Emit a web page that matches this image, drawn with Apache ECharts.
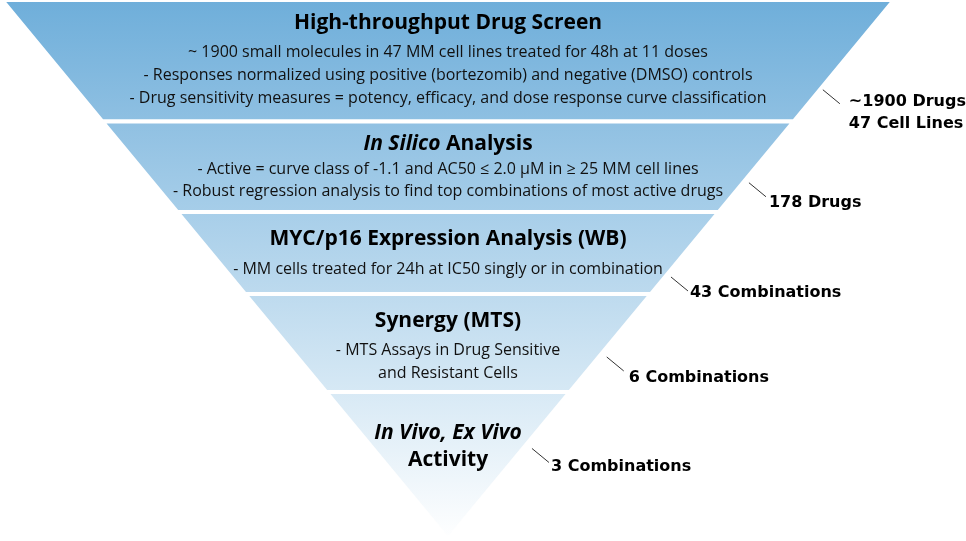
<!DOCTYPE html>
<html><head><meta charset="utf-8">
<script src="https://cdn.jsdelivr.net/npm/echarts@6/dist/echarts.min.js"></script>
<style>html,body{margin:0;padding:0;background:#fff}#chart{width:966px;height:541px}</style>
</head><body><div id="chart"></div>
<script>
// ---- data ----
const stageNames = ['High-throughput Drug Screen', 'In Silico Analysis', 'MYC/p16 Expression Analysis (WB)', 'Synergy (MTS)', 'In Vivo, Ex Vivo Activity'];
// title segments: [text, italic]
const stageTitles = [
  [['High-throughput Drug Screen', 0]],
  [['In Silico', 1], [' Analysis', 0]],
  [['MYC/p16 Expression Analysis (WB)', 0]],
  [['Synergy (MTS)', 0]],
  [['In Vivo, Ex Vivo', 1], ['\n', 0], ['Activity', 0]]
];
const stageDetails = [
  ['~ 1900 small molecules in 47 MM cell lines treated for 48h at 11 doses',
   '- Responses normalized using positive (bortezomib) and negative (DMSO) controls',
   '- Drug sensitivity measures = potency, efficacy, and dose response curve classification'],
  ['- Active = curve class of -1.1 and AC50 \u2264 2.0 \u00b5M in \u2265 25 MM cell lines',
   '- Robust regression analysis to find top combinations of most active drugs'],
  ['- MM cells treated for 24h at IC50 singly or in combination'],
  ['- MTS Assays in Drug Sensitive', 'and Resistant Cells'],
  []
];
// relative funnel width at the top of each stage (% of full width)
const stageWidth = [100, 77.5, 60.7, 45.5, 27.3];
const outcomeLabels = ['~1900 Drugs\n47 Cell Lines', '178 Drugs', '43 Combinations', '6 Combinations', '3 Combinations'];

// ---- layout / style ----
const bandHeights = [22.54, 16.79, 15.21, 18.18, 27.27]; // % of funnel height
const bandStyle = ['', '2', '', '', '5'];
const insideDy = [-3, -1, -2, 1, -19];
const leaderDrop = [29, 16, 24, 14, -17];
const leaderGap = [3, 6, 6, 8, 9];
const labelDx = [9, 3, 2, 5, 2];
const labelDy = [-2, 6, 2, 7, 4];
const topColor = [110, 174, 218], endColor = [255, 255, 255];

function mix(f) {
  const c = topColor.map((v, k) => Math.round(v + (endColor[k] - v) * f));
  return 'rgb(' + c.join(',') + ')';
}
function bandGradient(i) {
  let a = 0; for (let k = 0; k < i; k++) a += bandHeights[k];
  const b = a + bandHeights[i];
  return new echarts.graphic.LinearGradient(0, 0, 0, 1, [
    { offset: 0, color: mix(a / 100) }, { offset: 1, color: mix(b / 100) }
  ]);
}
function insideText(i) {
  const st = bandStyle[i];
  const t = stageTitles[i].map(s => s[0] === '\n' ? '\n' : '{' + (s[1] ? 'ti' : 't') + st + '|' + s[0] + '}').join('');
  const d = stageDetails[i].map(s => '{b' + st + '|' + s + '}');
  return [t].concat(d).join('\n');
}

const F = '"Open Sans", "Noto Sans", sans-serif';
const T = { fontFamily: F, fontWeight: 'bold', fontSize: 21, color: '#000' };
const B = { fontFamily: F, fontSize: 16, color: '#111' };
const geom = { left: 2, top: 0, width: 892, height: 539, min: 0, max: 100, minSize: '0%', maxSize: '100%', sort: 'none', gap: 0, funnelAlign: 'center' };

const chart = echarts.init(document.getElementById('chart'), null, { renderer: 'canvas' });
chart.setOption({
  backgroundColor: '#ffffff',
  animation: false,
  series: [
    Object.assign({}, geom, {
      type: 'funnel', name: 'stages', silent: true,
      itemStyle: { borderColor: '#ffffff', borderWidth: 4 },
      label: {
        show: true, position: 'inside', formatter: p => insideText(p.dataIndex),
        rich: {
          t: Object.assign({ lineHeight: 36 }, T),
          ti: Object.assign({ lineHeight: 36, fontStyle: 'italic' }, T),
          t2: Object.assign({ lineHeight: 30 }, T),
          ti2: Object.assign({ lineHeight: 30, fontStyle: 'italic' }, T),
          t5: Object.assign({ lineHeight: 27 }, T),
          ti5: Object.assign({ lineHeight: 27, fontStyle: 'italic' }, T),
          b: Object.assign({ lineHeight: 23 }, B),
          b2: Object.assign({ lineHeight: 22 }, B)
        }
      },
      labelLine: { show: false },
      labelLayout: p => ({ dy: insideDy[p.dataIndex] }),
      emphasis: { disabled: true },
      data: stageNames.map((n, i) => ({ name: n, value: stageWidth[i], itemStyle: { height: bandHeights[i] + '%', color: bandGradient(i) } }))
    }),
    Object.assign({}, geom, {
      type: 'funnel', name: 'outcomes', silent: true, z: 3,
      itemStyle: { color: 'rgba(0,0,0,0)', borderWidth: 0 },
      label: {
        show: true, position: 'right', formatter: p => outcomeLabels[p.dataIndex],
        fontFamily: '"DejaVu Sans", sans-serif', fontWeight: 'bold', fontSize: 16, lineHeight: 22, color: '#000'
      },
      labelLine: { show: true, length: 17, lineStyle: { color: '#333', width: 1 } },
      labelLayout: function (p) {
        const pts = p.labelLinePoints;
        if (!pts) return {};
        const x1 = pts[0][0], y1 = pts[0][1], r = p.rect, i = p.dataIndex;
        const s = (r.x + r.width - x1) / (y1 - r.y);
        const sy = y1 + leaderDrop[i], sx = x1 - s * leaderDrop[i] + leaderGap[i];
        const ex = sx + 17, ey = sy + 14;
        return { x: ex + labelDx[i], y: ey + labelDy[i] - 11, align: 'left', verticalAlign: 'top', labelLinePoints: [[sx, sy], [ex, ey]] };
      },
      emphasis: { disabled: true },
      data: stageNames.map((n, i) => ({ name: n, value: stageWidth[i], itemStyle: { height: bandHeights[i] + '%' } }))
    })
  ]
});
</script></body></html>
